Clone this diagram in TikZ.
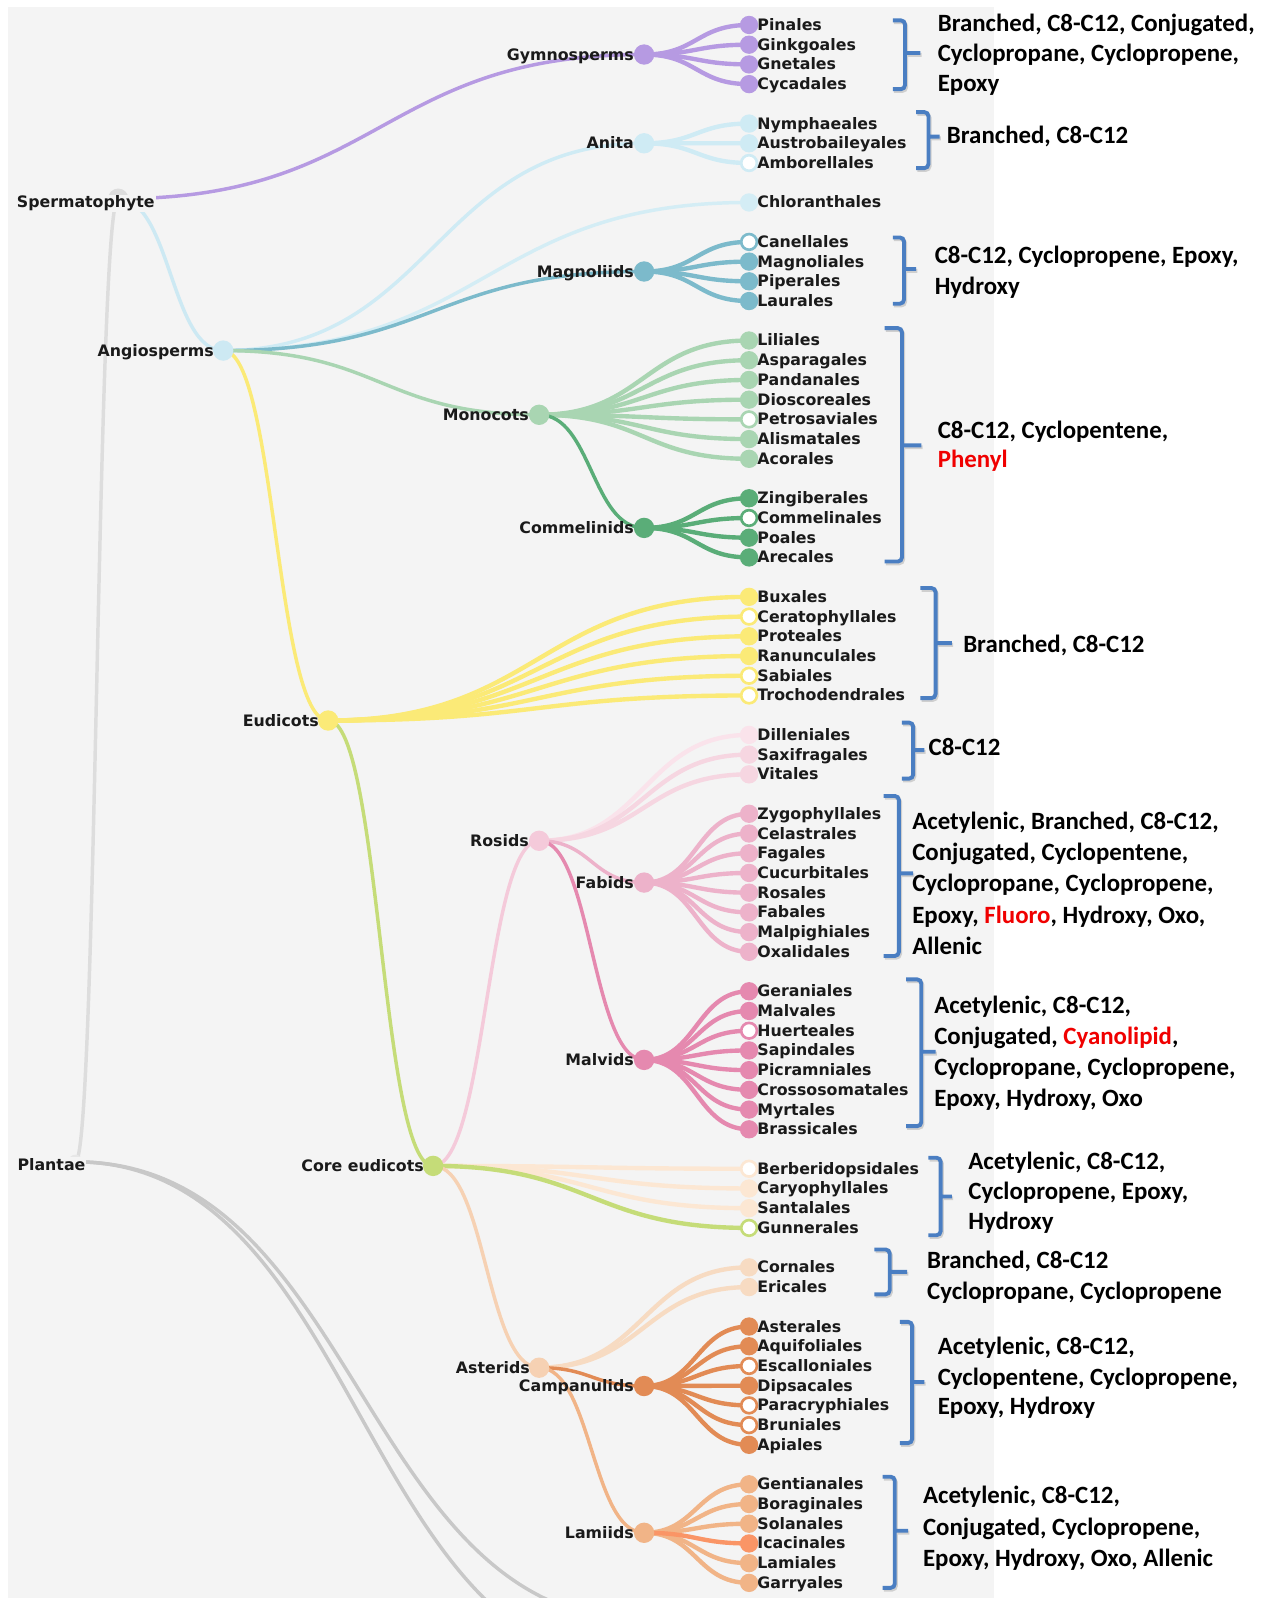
\documentclass[tikz,border=0pt]{standalone}
\usepackage{fontspec}
\newfontfamily\lblfont{DejaVu Sans}
\newfontfamily\annfont{Carlito}
\usetikzlibrary{calc}
\pgfdeclarelayer{back}
\pgfdeclarelayer{links}
\pgfsetlayers{back,links,main}

\definecolor{bgc}{HTML}{F4F4F4}
\definecolor{purplec}{HTML}{B69AE2}
\definecolor{anitac}{HTML}{CFEBF4}
\definecolor{chlorc}{HTML}{D4EDF5}
\definecolor{angioc}{HTML}{CDE9F3}
\definecolor{magnc}{HTML}{7CBACB}
\definecolor{monoc}{HTML}{A9D5B2}
\definecolor{commc}{HTML}{5AAD78}
\definecolor{eudc}{HTML}{FBEA77}
\definecolor{corec}{HTML}{C5DC78}
\definecolor{rosidc}{HTML}{F4CADA}
\definecolor{dillc}{HTML}{FAE3EB}
\definecolor{rosleafc}{HTML}{F6D6E1}
\definecolor{fabidc}{HTML}{EDB2CA}
\definecolor{malvidc}{HTML}{E589AF}
\definecolor{coreleafc}{HTML}{FCE7D3}
\definecolor{asterc}{HTML}{F6D1B3}
\definecolor{asterleafc}{HTML}{F7DBC2}
\definecolor{campanc}{HTML}{E28B55}
\definecolor{lamiidc}{HTML}{F1B487}
\definecolor{icac}{HTML}{FA9566}
\definecolor{greyv}{HTML}{DDDDDD}
\definecolor{greyc}{HTML}{C8C8C8}
\definecolor{bracec}{HTML}{4A7EC2}
\definecolor{lblc}{HTML}{1A1A1A}
\definecolor{redc}{HTML}{F00000}

\tikzset{
  link/.style={line width=3.4pt},
  leaflink/.style={line width=4.3pt},
  inode/.style={circle,inner sep=0pt,minimum size=20pt},
  leafdot/.style={circle,inner sep=0pt,minimum size=18pt},
  hollow/.style={fill=white,draw=#1,line width=2.6pt,minimum size=15.4pt},
  lfont/.style={font=\lblfont\bfseries\fontsize{15.5}{18}\selectfont,text=lblc,inner sep=0pt},
  leaflbl/.style={lfont,anchor=base west},
  ilbl/.style={lfont,anchor=base east},
  ann/.style={anchor=base west,inner sep=0pt,font=\annfont\bfseries\fontsize{24.4}{30}\selectfont},
  bracepath/.style={draw=bracec,line width=3.8pt,rounded corners=4pt},
  braceshadow/.style={draw=black,opacity=.15,line width=3.8pt,rounded corners=4pt}
}

\newcommand\mylink[4][link]{%
  \begin{pgfonlayer}{links}
  \coordinate (lm) at ($(#2.center)!.5!(#3.center)$);
  \draw[#1,draw=#4] (#2.center) .. controls (lm |- #2.center) and (lm |- #3.center) .. (#3.center);
  \end{pgfonlayer}}
\newcommand\mkleaf[4]{%
  \pgfmathsetmacro\ly{24.5+19.35*#2}%
  \node[leafdot,#4] (#1) at (735,\ly) {};
  \node[leaflbl] (#1-l) at (743,\ly+5.4) {#3};}
\newcommand\mkbrace[6]{%
  \draw[braceshadow,xshift=1.2pt,yshift=-1.8pt] (#1,#4) -- (#2,#4) -- (#2,#5) -- (#1,#5) (#2,#6) -- (#3,#6);
  \draw[bracepath] (#1,#4) -- (#2,#4) -- (#2,#5) -- (#1,#5) (#2,#6) -- (#3,#6);}

\begin{document}
\begin{tikzpicture}[x=1pt,y=-1pt]
\useasboundingbox (0,0) rectangle (1238,1568);
\begin{pgfonlayer}{back}
  \fill[white] (0,0) rectangle (1238,1568);
  \fill[bgc] (8,7) rectangle (975,1568);
\end{pgfonlayer}

% ---------- internal nodes ----------
\node[inode,fill=greyv] (sperm) at (116,195) {};
\node[ilbl,fill=bgc,inner sep=1pt] (sperm-l) at (153,204) {Spermatophyte};
\node[inode,fill=greyv!70,minimum size=14pt] (plantae) at (74,1140) {};
\node[ilbl,fill=bgc,inner sep=1pt] (plantae-l) at (85,1148.5) {Plantae};
\coordinate (offA) at (632,1637);
\coordinate (offB) at (632,1590);

\node[inode,fill=purplec] (gymno) at (632,53.5) {};
\node[ilbl] (gymno-l) at (622,58.9) {Gymnosperms};
\node[inode,fill=anitac] (anita) at (632,140.6) {};
\node[ilbl] (anita-l) at (622,146) {Anita};
\node[inode,fill=magnc] (magn) at (632,266.4) {};
\node[ilbl] (magn-l) at (622,271.8) {Magnoliids};
\node[inode,fill=angioc] (angio) at (219,344) {};
\node[ilbl] (angio-l) at (210,349.4) {Angiosperms};
\node[inode,fill=monoc] (mono) at (529,407) {};
\node[ilbl] (mono-l) at (519,412.4) {Monocots};
\node[inode,fill=commc] (comm) at (632,518) {};
\node[ilbl] (comm-l) at (622,523.4) {Commelinids};
\node[inode,fill=eudc] (eud) at (322,707) {};
\node[ilbl] (eud-l) at (313,712.4) {Eudicots};
\node[inode,fill=corec] (core) at (425,1144) {};
\node[ilbl] (core-l) at (416,1149.4) {Core eudicots};
\node[inode,fill=rosidc] (rosid) at (529,825) {};
\node[ilbl] (rosid-l) at (519,830.4) {Rosids};
\node[inode,fill=fabidc] (fabid) at (632,866) {};
\node[ilbl] (fabid-l) at (622,871.4) {Fabids};
\node[inode,fill=malvidc] (malvid) at (632,1040) {};
\node[ilbl] (malvid-l) at (622,1045.4) {Malvids};
\node[inode,fill=asterc] (aster) at (529,1342) {};
\node[ilbl] (aster-l) at (520,1347.4) {Asterids};
\node[inode,fill=campanc] (campan) at (632,1360) {};
\node[ilbl] (campan-l) at (622,1365.4) {Campanulids};
\node[inode,fill=lamiidc] (lamiid) at (632,1504) {};
\node[ilbl] (lamiid-l) at (622,1509.4) {Lamiids};

% ---------- leaves ----------
\mkleaf{pinales}{0}{Pinales}{fill=purplec}
\mkleaf{ginkgoales}{1}{Ginkgoales}{fill=purplec}
\mkleaf{gnetales}{2}{Gnetales}{fill=purplec}
\mkleaf{cycadales}{3}{Cycadales}{fill=purplec}
\mkleaf{nymphaeales}{5}{Nymphaeales}{fill=anitac}
\mkleaf{austrobaileyales}{6}{Austrobaileyales}{fill=anitac}
\mkleaf{amborellales}{7}{Amborellales}{hollow=anitac}
\mkleaf{chloranthales}{9}{Chloranthales}{fill=chlorc}
\mkleaf{canellales}{11}{Canellales}{hollow=magnc}
\mkleaf{magnoliales}{12}{Magnoliales}{fill=magnc}
\mkleaf{piperales}{13}{Piperales}{fill=magnc}
\mkleaf{laurales}{14}{Laurales}{fill=magnc}
\mkleaf{liliales}{16}{Liliales}{fill=monoc}
\mkleaf{asparagales}{17}{Asparagales}{fill=monoc}
\mkleaf{pandanales}{18}{Pandanales}{fill=monoc}
\mkleaf{dioscoreales}{19}{Dioscoreales}{fill=monoc}
\mkleaf{petrosaviales}{20}{Petrosaviales}{hollow=monoc}
\mkleaf{alismatales}{21}{Alismatales}{fill=monoc}
\mkleaf{acorales}{22}{Acorales}{fill=monoc}
\mkleaf{zingiberales}{24}{Zingiberales}{fill=commc}
\mkleaf{commelinales}{25}{Commelinales}{hollow=commc}
\mkleaf{poales}{26}{Poales}{fill=commc}
\mkleaf{arecales}{27}{Arecales}{fill=commc}
\mkleaf{buxales}{29}{Buxales}{fill=eudc}
\mkleaf{ceratophyllales}{30}{Ceratophyllales}{hollow=eudc}
\mkleaf{proteales}{31}{Proteales}{fill=eudc}
\mkleaf{ranunculales}{32}{Ranunculales}{fill=eudc}
\mkleaf{sabiales}{33}{Sabiales}{hollow=eudc}
\mkleaf{trochodendrales}{34}{Trochodendrales}{hollow=eudc}
\mkleaf{dilleniales}{36}{Dilleniales}{fill=dillc}
\mkleaf{saxifragales}{37}{Saxifragales}{fill=rosleafc}
\mkleaf{vitales}{38}{Vitales}{fill=rosleafc}
\mkleaf{zygophyllales}{40}{Zygophyllales}{fill=fabidc}
\mkleaf{celastrales}{41}{Celastrales}{fill=fabidc}
\mkleaf{fagales}{42}{Fagales}{fill=fabidc}
\mkleaf{cucurbitales}{43}{Cucurbitales}{fill=fabidc}
\mkleaf{rosales}{44}{Rosales}{fill=fabidc}
\mkleaf{fabales}{45}{Fabales}{fill=fabidc}
\mkleaf{malpighiales}{46}{Malpighiales}{fill=fabidc}
\mkleaf{oxalidales}{47}{Oxalidales}{fill=fabidc}
\mkleaf{geraniales}{49}{Geraniales}{fill=malvidc}
\mkleaf{malvales}{50}{Malvales}{fill=malvidc}
\mkleaf{huerteales}{51}{Huerteales}{hollow=malvidc}
\mkleaf{sapindales}{52}{Sapindales}{fill=malvidc}
\mkleaf{picramniales}{53}{Picramniales}{fill=malvidc}
\mkleaf{crossosomatales}{54}{Crossosomatales}{fill=malvidc}
\mkleaf{myrtales}{55}{Myrtales}{fill=malvidc}
\mkleaf{brassicales}{56}{Brassicales}{fill=malvidc}
\mkleaf{berberidopsidales}{58}{Berberidopsidales}{hollow=coreleafc}
\mkleaf{caryophyllales}{59}{Caryophyllales}{fill=coreleafc}
\mkleaf{santalales}{60}{Santalales}{fill=coreleafc}
\mkleaf{gunnerales}{61}{Gunnerales}{hollow=corec}
\mkleaf{cornales}{63}{Cornales}{fill=asterleafc}
\mkleaf{ericales}{64}{Ericales}{fill=asterleafc}
\mkleaf{asterales}{66}{Asterales}{fill=campanc}
\mkleaf{aquifoliales}{67}{Aquifoliales}{fill=campanc}
\mkleaf{escalloniales}{68}{Escalloniales}{hollow=campanc}
\mkleaf{dipsacales}{69}{Dipsacales}{fill=campanc}
\mkleaf{paracryphiales}{70}{Paracryphiales}{hollow=campanc}
\mkleaf{bruniales}{71}{Bruniales}{hollow=campanc}
\mkleaf{apiales}{72}{Apiales}{fill=campanc}
\mkleaf{gentianales}{74}{Gentianales}{fill=lamiidc}
\mkleaf{boraginales}{75}{Boraginales}{fill=lamiidc}
\mkleaf{solanales}{76}{Solanales}{fill=lamiidc}
\mkleaf{icacinales}{77}{Icacinales}{fill=icac}
\mkleaf{lamiales}{78}{Lamiales}{fill=lamiidc}
\mkleaf{garryales}{79}{Garryales}{fill=lamiidc}

% ---------- links ----------
\mylink{plantae}{sperm}{greyv}
\mylink{plantae}{offA}{greyc}
\mylink{plantae}{offB}{greyc}
\mylink{sperm}{gymno}{purplec}
\mylink{sperm}{angio}{angioc}
\foreach \l in {pinales,ginkgoales,gnetales,cycadales} {\mylink[leaflink]{gymno}{\l}{purplec}}
\mylink{angio}{anita}{anitac}
\foreach \l in {nymphaeales,austrobaileyales,amborellales} {\mylink[leaflink]{anita}{\l}{anitac}}
\mylink{angio}{chloranthales}{chlorc}
\mylink{angio}{magn}{magnc}
\foreach \l in {canellales,magnoliales,piperales,laurales} {\mylink[leaflink]{magn}{\l}{magnc}}
\mylink{angio}{mono}{monoc}
\foreach \l in {liliales,asparagales,pandanales,dioscoreales,petrosaviales,alismatales,acorales} {\mylink[leaflink]{mono}{\l}{monoc}}
\mylink{mono}{comm}{commc}
\foreach \l in {zingiberales,commelinales,poales,arecales} {\mylink[leaflink]{comm}{\l}{commc}}
\mylink{angio}{eud}{eudc}
\foreach \l in {buxales,ceratophyllales,proteales,ranunculales,sabiales,trochodendrales} {\mylink[leaflink]{eud}{\l}{eudc}}
\mylink{eud}{core}{corec}
\mylink{core}{rosid}{rosidc}
\mylink[leaflink]{rosid}{dilleniales}{dillc}
\mylink[leaflink]{rosid}{saxifragales}{rosleafc}
\mylink[leaflink]{rosid}{vitales}{rosleafc}
\mylink{rosid}{fabid}{fabidc}
\mylink{rosid}{malvid}{malvidc}
\foreach \l in {zygophyllales,celastrales,fagales,cucurbitales,rosales,fabales,malpighiales,oxalidales} {\mylink[leaflink]{fabid}{\l}{fabidc}}
\foreach \l in {geraniales,malvales,huerteales,sapindales,picramniales,crossosomatales,myrtales,brassicales} {\mylink[leaflink]{malvid}{\l}{malvidc}}
\foreach \l in {berberidopsidales,caryophyllales,santalales} {\mylink[leaflink]{core}{\l}{coreleafc}}
\mylink[leaflink]{core}{gunnerales}{corec}
\mylink{core}{aster}{asterc}
\mylink[leaflink]{aster}{cornales}{asterleafc}
\mylink[leaflink]{aster}{ericales}{asterleafc}
\mylink{aster}{campan}{campanc}
\mylink{aster}{lamiid}{lamiidc}
\foreach \l in {asterales,aquifoliales,escalloniales,dipsacales,paracryphiales,bruniales,apiales} {\mylink[leaflink]{campan}{\l}{campanc}}
\foreach \l in {gentianales,boraginales,solanales,lamiales,garryales} {\mylink[leaflink]{lamiid}{\l}{lamiidc}}
\mylink[leaflink]{lamiid}{icacinales}{icac}

% ---------- brackets ----------
\mkbrace{876}{888}{903}{20}{87.5}{52}
\mkbrace{899}{911}{922}{110}{165}{134}
\mkbrace{876}{887}{899}{233}{298}{264}
\mkbrace{868}{885}{904}{322}{551}{437}
\mkbrace{903}{918}{934}{577}{685}{631}
\mkbrace{885}{896}{907}{709}{764}{736}
\mkbrace{867}{882}{896}{781}{938}{857}
\mkbrace{889}{904}{918}{961}{1105}{1032}
\mkbrace{911}{923}{934}{1136}{1212}{1174}
\mkbrace{858}{873}{890}{1226}{1270}{1248}
\mkbrace{883}{895}{907}{1297}{1416}{1356}
\mkbrace{866}{878}{891}{1449}{1558}{1502}

% ---------- annotations ----------
\node[ann] (a1a) at (920,31) {Branched, C8-C12, Conjugated,};
\node[ann] (a1b) at (920,60.5) {Cyclopropane, Cyclopropene,};
\node[ann] (a1c) at (920,90) {Epoxy};
\node[ann] (a2a) at (929,140.5) {Branched, C8-C12};
\node[ann] (a3a) at (917,259) {C8-C12, Cyclopropene, Epoxy,};
\node[ann] (a3b) at (917,288.5) {Hydroxy};
\node[ann] (a4a) at (920,430) {C8-C12, Cyclopentene,};
\node[ann] (a4b) at (920,458.5) {\textcolor{redc}{Phenyl}};
\node[ann] (a5a) at (945,640) {Branched, C8-C12};
\node[ann] (a6a) at (911,741) {C8-C12};
\node[ann] (a7a) at (895,814) {Acetylenic, Branched, C8-C12,};
\node[ann] (a7b) at (895,844.5) {Conjugated, Cyclopentene,};
\node[ann] (a7c) at (895,875) {Cyclopropane, Cyclopropene,};
\node[ann] (a7d) at (895,906) {Epoxy, \textcolor{redc}{Fluoro}, Hydroxy, Oxo,};
\node[ann] (a7e) at (895,937) {Allenic};
\node[ann] (a8a) at (916.5,994) {Acetylenic, C8-C12,};
\node[ann] (a8b) at (916.5,1024.5) {Conjugated, \textcolor{redc}{Cyanolipid},};
\node[ann] (a8c) at (916.5,1055) {Cyclopropane, Cyclopropene,};
\node[ann] (a8d) at (916.5,1086) {Epoxy, Hydroxy, Oxo};
\node[ann] (a9a) at (950,1148) {Acetylenic, C8-C12,};
\node[ann] (a9b) at (950,1177) {Cyclopropene, Epoxy,};
\node[ann] (a9c) at (950,1206) {Hydroxy};
\node[ann] (a10a) at (909.5,1245) {Branched, C8-C12};
\node[ann] (a10b) at (909.5,1275) {Cyclopropane, Cyclopropene};
\node[ann] (a11a) at (920,1329) {Acetylenic, C8-C12,};
\node[ann] (a11b) at (920,1359) {Cyclopentene, Cyclopropene,};
\node[ann] (a11c) at (920,1388) {Epoxy, Hydroxy};
\node[ann] (a12a) at (905.5,1475.5) {Acetylenic, C8-C12,};
\node[ann] (a12b) at (905.5,1507) {Conjugated, Cyclopropene,};
\node[ann] (a12c) at (905.5,1537) {Epoxy, Hydroxy, Oxo, Allenic};
\end{tikzpicture}
\end{document}
